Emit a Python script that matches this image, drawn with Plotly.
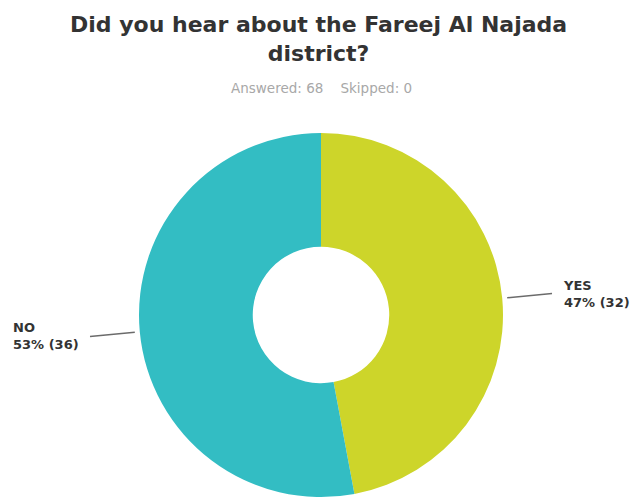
import math
import plotly.graph_objects as go

# Survey responses
question = "Did you hear about the Fareej Al Najada<br>district?"
answers = ["YES", "NO"]
counts = [32, 36]
percents = [47, 53]
skipped = 0
colors = ["#CDD52A", "#33BDC3"]

W, H = 632, 499
cx, cy, R = 321, 315, 182  # pie centre and radius in pixels
FONT = "DejaVu Sans, Verdana, sans-serif"

fig = go.Figure()
fig.add_trace(go.Pie(
    labels=answers,
    values=counts,
    sort=False,
    direction="clockwise",
    rotation=0,
    hole=0.375,
    textinfo="none",
    hoverinfo="skip",
    marker=dict(colors=colors, line=dict(width=0)),
    showlegend=False,
    domain=dict(x=[(cx - R) / W, (cx + R) / W], y=[(H - (cy + R)) / H, (H - (cy - R)) / H]),
))


def to_paper(px, py):
    return px / W, (H - py) / H


shapes = []
annotations = []
total = sum(counts)
start = 0.0
for name, cnt, pct in zip(answers, counts, percents):
    mid = (start + cnt / 2) / total * 2 * math.pi  # clockwise from 12 o'clock
    start += cnt
    dx, dy = math.sin(mid), -math.cos(mid)
    x0, y0 = to_paper(cx + (R + 5) * dx, cy + (R + 5) * dy)
    x1, y1 = to_paper(cx + (R + 50) * dx, cy + (R + 50) * dy)
    shapes.append(dict(type="line", xref="paper", yref="paper", x0=x0, y0=y0, x1=x1, y1=y1,
                       line=dict(color="#6b6b6b", width=1.5)))
    right_side = dx > 0
    annotations.append(dict(
        xref="paper", yref="paper", x=x1, y=y1,
        xshift=9 if right_side else -9,
        xanchor="left" if right_side else "right", yanchor="middle", align="left",
        text=f"<b>{name}</b><br><b>{pct}% ({cnt})</b>", showarrow=False,
        font=dict(family=FONT, size=13, color="#333333"),
    ))

annotations.append(dict(
    xref="paper", yref="paper", x=318 / W, y=(H - 39) / H, xanchor="center", yanchor="middle",
    text=f"<b>{question}</b>", showarrow=False,
    font=dict(family=FONT, size=22, color="#333333"),
))
annotations.append(dict(
    xref="paper", yref="paper", x=321 / W, y=(H - 88) / H, xanchor="center", yanchor="middle",
    text=f"Answered: {total}\u00a0\u00a0\u00a0\u00a0Skipped: {skipped}", showarrow=False,
    font=dict(family=FONT, size=13.5, color="#a8a8a8"),
))

fig.update_layout(
    width=W, height=H,
    margin=dict(l=0, r=0, t=0, b=0),
    paper_bgcolor="white", plot_bgcolor="white",
    shapes=shapes, annotations=annotations,
)

fig.write_html("out.html")
